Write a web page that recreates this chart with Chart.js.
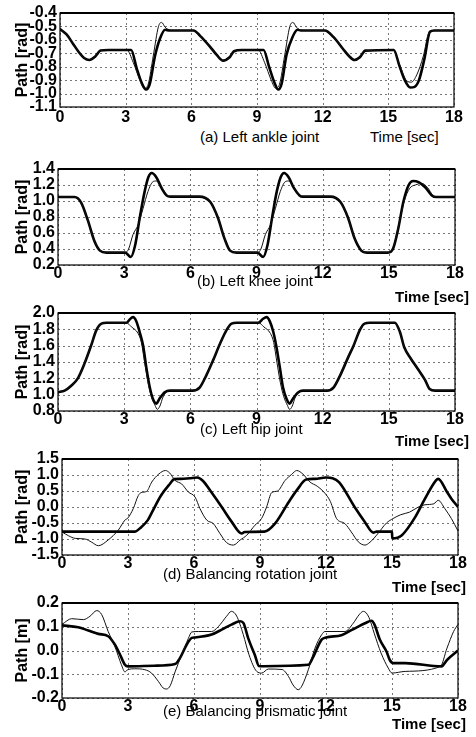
<!DOCTYPE html>
<html>
<head>
<meta charset="utf-8">
<script src="https://cdn.jsdelivr.net/npm/chart.js@4"></script>
<style>
  body { margin: 0; background: #fff; width: 476px; height: 737px; position: relative; overflow: hidden;
         font-family: "Liberation Sans", Arial, sans-serif; }
  canvas { position: absolute; left: 0; }
  .cap { position: absolute; font-size: 15px; line-height: 15px; white-space: nowrap; color: #000; }
  .unit { font-weight: bold; }
</style>
</head>
<body>
<canvas id="cA"></canvas>
<canvas id="cB"></canvas>
<canvas id="cC"></canvas>
<canvas id="cD"></canvas>
<canvas id="cE"></canvas>

<div class="cap" style="left:200px;top:129px">(a) Left ankle joint</div>
<div class="cap" style="left:370px;top:129px">Time [sec]</div>
<div class="cap" style="left:197px;top:273px">(b) Left knee joint</div>
<div class="cap unit" style="left:395px;top:289px">Time [sec]</div>
<div class="cap" style="left:200px;top:421px">(c) Left hip joint</div>
<div class="cap unit" style="left:395px;top:433px">Time [sec]</div>
<div class="cap" style="left:163px;top:566px">(d) Balancing rotation joint</div>
<div class="cap unit" style="left:392px;top:579px">Time [sec]</div>
<div class="cap" style="left:163px;top:703px">(e) Balancing prismatic joint</div>
<div class="cap unit" style="left:392px;top:716px">Time [sec]</div>

<script>
// ---- data (time in sec) ----
const ankleRefT = [0, 0.3, 0.6, 0.9, 1.1, 1.34, 1.6, 1.85, 2.2, 3.25, 3.5, 3.73, 3.93, 4.1, 4.34, 4.57, 4.8, 5.0, 6.1, 6.4, 6.85, 7.15, 7.45, 7.75, 7.95, 8.3, 9.3, 9.55, 9.8, 9.97, 10.12, 10.35, 10.62, 10.85, 11.0, 12.1, 12.5, 12.94, 13.2, 13.45, 13.7, 13.95, 15.25, 15.5, 15.75, 16.0, 16.2, 16.4, 16.65, 16.9, 17.1, 18];
const ankleRef = [-0.52, -0.56, -0.63, -0.70, -0.735, -0.75, -0.725, -0.68, -0.675, -0.675, -0.81, -0.92, -0.97, -0.93, -0.72, -0.59, -0.525, -0.53, -0.53, -0.57, -0.65, -0.71, -0.755, -0.73, -0.685, -0.675, -0.675, -0.80, -0.92, -0.97, -0.93, -0.71, -0.58, -0.525, -0.53, -0.53, -0.58, -0.67, -0.72, -0.75, -0.73, -0.68, -0.675, -0.79, -0.90, -0.955, -0.95, -0.90, -0.74, -0.54, -0.53, -0.53];
const ankleActT = [0, 0.3, 0.6, 0.9, 1.1, 1.34, 1.6, 1.85, 2.2, 3.05, 3.35, 3.65, 3.85, 4.03, 4.26, 4.5, 4.64, 4.8, 4.95, 5.2, 6.1, 6.4, 6.85, 7.15, 7.45, 7.75, 7.95, 8.3, 9.05, 9.35, 9.65, 9.85, 10.03, 10.26, 10.5, 10.64, 10.8, 10.95, 11.2, 12.1, 12.5, 12.94, 13.2, 13.45, 13.7, 13.95, 15.2, 15.5, 15.84, 16.05, 16.3, 16.6, 16.85, 17.1, 18];
const ankleAct = [-0.52, -0.56, -0.63, -0.70, -0.735, -0.75, -0.725, -0.68, -0.675, -0.675, -0.77, -0.90, -0.96, -0.93, -0.72, -0.50, -0.47, -0.505, -0.525, -0.53, -0.53, -0.57, -0.65, -0.71, -0.755, -0.73, -0.685, -0.675, -0.675, -0.77, -0.90, -0.96, -0.93, -0.72, -0.50, -0.47, -0.505, -0.525, -0.53, -0.53, -0.58, -0.67, -0.72, -0.75, -0.73, -0.68, -0.675, -0.78, -0.905, -0.915, -0.86, -0.72, -0.55, -0.53, -0.53];

const kneeRefT = [0, 0.75, 1.05, 1.35, 1.65, 1.9, 2.2, 3.05, 3.3, 3.5, 3.7, 3.93, 4.1, 4.25, 4.45, 4.7, 4.92, 5.1, 6.4, 6.9, 7.25, 7.55, 7.8, 8.1, 9.05, 9.3, 9.5, 9.7, 9.92, 10.1, 10.25, 10.45, 10.7, 10.95, 11.1, 12.35, 12.8, 13.15, 13.45, 13.75, 14.0, 14.95, 15.2, 15.43, 15.66, 15.9, 16.1, 16.35, 16.65, 16.95, 17.15, 18];
const kneeRef = [1.05, 1.05, 0.98, 0.76, 0.50, 0.38, 0.355, 0.355, 0.30, 0.45, 0.78, 1.12, 1.30, 1.35, 1.30, 1.16, 1.07, 1.055, 1.055, 0.99, 0.79, 0.53, 0.38, 0.355, 0.355, 0.30, 0.45, 0.78, 1.12, 1.30, 1.35, 1.30, 1.16, 1.07, 1.055, 1.055, 0.99, 0.79, 0.53, 0.38, 0.355, 0.355, 0.41, 0.66, 0.99, 1.20, 1.25, 1.235, 1.17, 1.07, 1.05, 1.05];
const kneeActT = [0, 0.75, 1.05, 1.35, 1.65, 1.9, 2.2, 3.05, 3.2, 3.4, 3.63, 3.86, 4.08, 4.3, 4.45, 4.7, 4.95, 5.1, 6.4, 6.9, 7.25, 7.55, 7.8, 8.1, 9.05, 9.2, 9.4, 9.63, 9.86, 10.08, 10.3, 10.45, 10.7, 10.95, 11.1, 12.35, 12.8, 13.15, 13.45, 13.75, 14.0, 15.0, 15.2, 15.45, 15.7, 15.95, 16.2, 16.5, 16.75, 17.0, 17.2, 18];
const kneeAct = [1.05, 1.05, 0.98, 0.76, 0.50, 0.38, 0.355, 0.355, 0.40, 0.58, 0.70, 0.91, 1.12, 1.24, 1.25, 1.17, 1.07, 1.055, 1.055, 0.99, 0.79, 0.53, 0.38, 0.355, 0.355, 0.40, 0.58, 0.70, 0.91, 1.12, 1.24, 1.25, 1.17, 1.07, 1.055, 1.055, 0.99, 0.79, 0.53, 0.38, 0.355, 0.355, 0.42, 0.70, 1.00, 1.16, 1.20, 1.22, 1.17, 1.07, 1.05, 1.05];

const hipRefT = [0, 0.3, 0.6, 0.9, 1.2, 1.5, 1.74, 1.97, 2.2, 3.1, 3.25, 3.4, 3.55, 3.7, 3.86, 4.0, 4.16, 4.3, 4.46, 4.6, 4.84, 5.07, 6.1, 6.43, 6.73, 7.03, 7.34, 7.64, 7.87, 8.1, 9.08, 9.3, 9.46, 9.6, 9.76, 9.9, 10.06, 10.2, 10.36, 10.5, 10.65, 10.9, 11.1, 12.2, 12.5, 12.8, 13.16, 13.4, 13.7, 13.9, 14.14, 15.27, 15.5, 15.7, 16.0, 16.3, 16.64, 16.85, 17.1, 18];
const hipRef = [1.03, 1.05, 1.11, 1.20, 1.38, 1.60, 1.79, 1.87, 1.88, 1.88, 1.92, 1.95, 1.90, 1.77, 1.60, 1.34, 1.09, 0.95, 0.89, 0.95, 1.03, 1.05, 1.05, 1.09, 1.24, 1.42, 1.62, 1.79, 1.87, 1.88, 1.88, 1.93, 1.95, 1.90, 1.77, 1.59, 1.33, 1.09, 0.95, 0.89, 0.95, 1.03, 1.05, 1.05, 1.09, 1.24, 1.46, 1.60, 1.80, 1.87, 1.88, 1.88, 1.77, 1.58, 1.44, 1.32, 1.18, 1.07, 1.05, 1.05];
const hipActT = [0, 0.3, 0.6, 0.9, 1.2, 1.5, 1.74, 1.97, 2.2, 3.1, 3.33, 3.63, 3.78, 3.93, 4.08, 4.23, 4.4, 4.5, 4.62, 4.76, 4.92, 5.07, 6.1, 6.43, 6.73, 7.03, 7.34, 7.64, 7.87, 8.1, 9.1, 9.33, 9.63, 9.78, 9.93, 10.08, 10.23, 10.4, 10.5, 10.62, 10.76, 10.92, 11.1, 12.2, 12.5, 12.8, 13.16, 13.4, 13.7, 13.9, 14.14, 15.27, 15.5, 15.7, 16.0, 16.3, 16.64, 16.85, 17.1, 18];
const hipAct = [1.03, 1.05, 1.11, 1.20, 1.38, 1.60, 1.79, 1.87, 1.88, 1.88, 1.83, 1.75, 1.64, 1.39, 1.15, 0.98, 0.87, 0.82, 0.86, 0.97, 1.03, 1.05, 1.05, 1.09, 1.24, 1.42, 1.62, 1.79, 1.87, 1.88, 1.88, 1.83, 1.75, 1.64, 1.39, 1.15, 0.98, 0.87, 0.82, 0.86, 0.97, 1.03, 1.05, 1.05, 1.09, 1.24, 1.46, 1.60, 1.80, 1.87, 1.88, 1.88, 1.77, 1.58, 1.44, 1.32, 1.18, 1.07, 1.05, 1.05];

const rotRefT = [0, 3.3, 3.6, 3.9, 4.1, 4.5, 4.9, 5.1, 5.4, 5.8, 6.15, 6.4, 6.8, 7.26, 7.7, 8.17, 8.3, 9.2, 9.68, 10.3, 10.7, 11.1, 11.5, 12.0, 12.3, 12.6, 13.3, 13.75, 14.15, 14.3, 15.0, 15.01, 15.45, 16.06, 16.5, 17.0, 17.1, 17.5, 17.7, 18];
const rotRef = [-0.77, -0.77, -0.63, -0.41, -0.15, 0.36, 0.72, 0.87, 0.88, 0.90, 0.92, 0.82, 0.45, 0.00, -0.45, -0.83, -0.78, -0.77, -0.52, 0.15, 0.55, 0.86, 0.88, 0.92, 0.90, 0.77, 0.00, -0.45, -0.80, -0.77, -0.77, -0.98, -0.88, -0.31, 0.26, 0.83, 0.88, 0.47, 0.26, 0.00];
const rotActT = [0, 0.3, 0.6, 1.05, 1.35, 1.65, 2.1, 2.56, 2.86, 3.0, 3.24, 3.47, 3.6, 3.85, 4.08, 4.4, 4.7, 4.9, 5.14, 5.44, 5.74, 6.05, 6.27, 6.58, 6.88, 7.18, 7.48, 7.79, 8.1, 8.4, 8.77, 9.07, 9.3, 9.53, 9.8, 10.14, 10.44, 10.67, 10.95, 11.27, 11.6, 11.95, 12.2, 12.48, 12.86, 13.15, 13.47, 13.77, 14.0, 14.3, 14.75, 15.05, 15.4, 15.8, 16.2, 16.5, 16.9, 17.1, 17.4, 17.7, 18];
const rotAct = [-0.78, -0.90, -0.98, -1.00, -1.10, -1.21, -1.03, -0.72, -0.41, -0.34, -0.05, 0.36, 0.45, 0.49, 0.78, 1.03, 1.14, 1.06, 0.83, 0.72, 0.47, 0.31, -0.05, -0.41, -0.52, -0.83, -1.11, -1.19, -1.03, -0.88, -0.57, -0.36, 0.00, 0.45, 0.50, 0.83, 1.02, 1.14, 1.03, 0.78, 0.65, 0.43, 0.17, -0.36, -0.52, -0.78, -1.09, -1.19, -1.10, -0.88, -0.50, -0.36, -0.24, -0.16, 0.00, 0.07, 0.10, 0.21, -0.05, -0.36, -0.75];

const priRefT = [0, 0.74, 1.2, 1.65, 2.1, 2.4, 2.64, 2.86, 3.0, 4.2, 5.14, 5.36, 5.67, 5.9, 6.05, 6.8, 7.26, 7.7, 8.1, 8.25, 8.47, 8.77, 8.95, 9.15, 11.2, 11.4, 11.8, 12.0, 12.7, 13.2, 13.8, 14.07, 14.2, 14.45, 14.75, 14.9, 15.05, 15.6, 17.25, 17.5, 18];
const priRef = [0.106, 0.098, 0.084, 0.07, 0.06, 0.025, -0.018, -0.06, -0.067, -0.064, -0.057, -0.032, 0.025, 0.053, 0.055, 0.067, 0.088, 0.109, 0.123, 0.115, 0.05, -0.02, -0.065, -0.066, -0.06, -0.03, 0.046, 0.055, 0.064, 0.088, 0.116, 0.125, 0.11, 0.045, -0.004, -0.04, -0.053, -0.053, -0.067, -0.04, 0.0];
const priActT = [0, 0.44, 0.97, 1.27, 1.58, 1.8, 2.1, 2.4, 2.7, 2.86, 3.0, 3.3, 3.77, 4.07, 4.38, 4.6, 4.76, 4.92, 5.14, 5.44, 5.74, 5.9, 6.2, 6.8, 7.1, 7.48, 7.7, 7.94, 8.24, 8.5, 8.85, 9.08, 9.38, 10.0, 10.3, 10.5, 10.74, 10.9, 11.2, 11.5, 11.8, 11.95, 12.86, 13.24, 13.5, 13.7, 13.95, 14.2, 14.5, 14.83, 15.0, 15.6, 17.2, 17.5, 17.8, 18];
const priAct = [0.11, 0.134, 0.13, 0.144, 0.168, 0.152, 0.08, 0.018, -0.06, -0.09, -0.08, -0.077, -0.081, -0.095, -0.13, -0.158, -0.162, -0.148, -0.09, -0.018, 0.05, 0.078, 0.08, 0.08, 0.10, 0.144, 0.165, 0.145, 0.067, -0.018, -0.088, -0.095, -0.078, -0.08, -0.11, -0.145, -0.165, -0.15, -0.08, 0.01, 0.066, 0.08, 0.08, 0.115, 0.15, 0.165, 0.14, 0.07, -0.01, -0.074, -0.095, -0.088, -0.067, 0.01, 0.08, 0.11];

const FONT = '"Liberation Sans", Arial, sans-serif';
Chart.defaults.font.family = FONT;
Chart.defaults.color = '#000';

// dotted grid at every tick of both scales
const dottedGrid = {
  id: 'dottedGrid',
  beforeDatasetsDraw(chart) {
    const { ctx, chartArea: a, scales } = chart;
    ctx.save();
    ctx.strokeStyle = '#777';
    ctx.lineWidth = 1;
    ctx.setLineDash([2, 3]);
    ctx.beginPath();
    scales.x.ticks.forEach((t) => {
      const px = Math.round(scales.x.getPixelForValue(t.value)) + 0.5;
      ctx.moveTo(px, a.top);
      ctx.lineTo(px, a.bottom);
    });
    scales.y.ticks.forEach((t) => {
      const py = Math.round(scales.y.getPixelForValue(t.value)) + 0.5;
      ctx.moveTo(a.left, py);
      ctx.lineTo(a.right, py);
    });
    ctx.stroke();
    ctx.restore();
  }
};

// black box round the plot area (thicker on top, like the scan)
const frame = {
  id: 'frame',
  afterDatasetsDraw(chart) {
    const { ctx, chartArea: a } = chart;
    ctx.save();
    ctx.strokeStyle = '#000';
    ctx.lineWidth = 1.2;
    ctx.strokeRect(a.left, a.top, a.right - a.left, a.bottom - a.top);
    ctx.lineWidth = 2;
    ctx.beginPath();
    ctx.moveTo(a.left, a.top);
    ctx.lineTo(a.right, a.top);
    ctx.stroke();
    ctx.restore();
  }
};

function pts(t, v) {
  return t.map((x, i) => ({ x, y: v[i] }));
}

function panel(id, box, yMin, yMax, yStep, yTitle, ref, act) {
  const canvas = document.getElementById(id);
  const padTop = 12;
  const canvasTop = box.top - padTop;
  const h = box.bottom - canvasTop + 20;
  canvas.width = 476;
  canvas.height = h;
  canvas.style.top = canvasTop + 'px';

  return new Chart(canvas, {
    type: 'line',
    data: {
      datasets: [
        { data: pts(act[0], act[1]), borderColor: '#111', borderWidth: 1 },
        { data: pts(ref[0], ref[1]), borderColor: '#000', borderWidth: 2.6 },
      ],
    },
    options: {
      responsive: false,
      animation: false,
      devicePixelRatio: 1,
      layout: { padding: { left: 0, right: 476 - box.right, top: padTop, bottom: 0 } },
      elements: {
        point: { radius: 0 },
        line: { cubicInterpolationMode: 'monotone', borderJoinStyle: 'round' },
      },
      plugins: { legend: { display: false }, tooltip: { enabled: false } },
      scales: {
        x: {
          type: 'linear',
          min: 0,
          max: 18,
          ticks: { stepSize: 3, font: { size: 16, weight: 'bold', lineHeight: 1 }, padding: box.tickPad, maxRotation: 0 },
          grid: { display: false, drawTicks: false },
          border: { display: false },
          afterFit: (s) => { s.height = 20; },
        },
        y: {
          min: yMin,
          max: yMax,
          ticks: {
            stepSize: yStep,
            autoSkip: false,
            padding: 3,
            font: { size: 16, weight: 'bold', lineHeight: 1 },
            callback: (v) => v.toFixed(1),
          },
          grid: { display: false, drawTicks: false },
          border: { display: false },
          title: { display: true, text: yTitle, font: { size: 16, weight: 'bold', lineHeight: 1 }, padding: { top: 15, bottom: 0 } },
          afterFit: (s) => { s.width = box.left; },
        },
      },
    },
    plugins: [dottedGrid, frame],
  });
}

panel('cA', { top: 13, bottom: 107, left: 60, right: 454, tickPad: 3 }, -1.1, -0.4, 0.1, 'Path [rad]', [ankleRefT, ankleRef], [ankleActT, ankleAct]);
panel('cB', { top: 169, bottom: 265, left: 58, right: 455, tickPad: 1 }, 0.2, 1.4, 0.2, 'Path [rad]', [kneeRefT, kneeRef], [kneeActT, kneeAct]);
panel('cC', { top: 313, bottom: 411, left: 58, right: 455, tickPad: 1 }, 0.8, 2.0, 0.2, 'Path [rad]', [hipRefT, hipRef], [hipActT, hipAct]);
panel('cD', { top: 459, bottom: 555, left: 62, right: 458, tickPad: 1 }, -1.5, 1.5, 0.5, 'Path [rad]', [rotRefT, rotRef], [rotActT, rotAct]);
panel('cE', { top: 603, bottom: 698, left: 62, right: 458, tickPad: 1 }, -0.2, 0.2, 0.1, 'Path [m]', [priRefT, priRef], [priActT, priAct]);
</script>
</body>
</html>
